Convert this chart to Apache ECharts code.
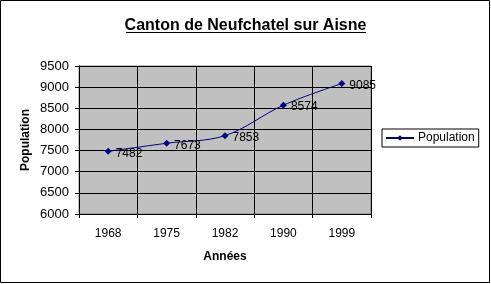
<!DOCTYPE html>
<html><head><meta charset="utf-8">
<script src="https://cdn.jsdelivr.net/npm/echarts@6/dist/echarts.min.js"></script>
<style>html,body{margin:0;padding:0;background:#fff}#c{width:491px;height:284px}</style>
</head><body><div id="c"></div>
<script>
var titleText = "Canton de Neufchatel sur Aisne";
var categories = ["1968", "1975", "1982", "1990", "1999"];
var population = [7482, 7673, 7853, 8574, 9085];
var seriesName = "Population";
var xTitle = "Années";
var yTitle = "Population";
var yMin = 6000, yMax = 9500, yStep = 500;

var FONT = "Liberation Sans";
var chart = echarts.init(document.getElementById('c'), null, {renderer: 'canvas'});
chart.setOption({
  animation: false,
  backgroundColor: '#fff',
  textStyle: {fontFamily: FONT},
  title: {
    text: titleText, left: 'center', top: 13,
    textStyle: {fontFamily: FONT, fontSize: 16, fontWeight: 'bold', color: '#000'}
  },
  graphic: [
    {type: 'rect', shape: {x: 0.5, y: 0.5, width: 489, height: 282}, style: {fill: 'none', stroke: '#000', lineWidth: 1}, z: 100},
    {type: 'line', shape: {x1: 126, y1: 32.5, x2: 366, y2: 32.5}, style: {stroke: '#000', lineWidth: 1.2}}
  ],
  grid: {
    left: 79, top: 66, right: 120, bottom: 70,
    show: true, backgroundColor: '#c0c0c0', borderColor: '#808080', borderWidth: 1
  },
  legend: {
    data: [seriesName], left: 382, top: 129,
    orient: 'vertical',
    borderColor: '#000', borderWidth: 1, padding: [3, 4, 3, 3],
    itemWidth: 28, itemHeight: 7, itemGap: 4,
    textStyle: {fontFamily: FONT, fontSize: 12, color: '#000', padding: [0, 0, 0, -1]}
  },
  xAxis: {
    type: 'category', data: categories, boundaryGap: true,
    name: xTitle, nameLocation: 'middle', nameGap: 37, nameMoveOverlap: false,
    nameTextStyle: {fontFamily: FONT, fontSize: 12, fontWeight: 'bold', color: '#000'},
    axisLine: {lineStyle: {color: '#000', width: 1}},
    axisTick: {show: true, length: 4, lineStyle: {color: '#000'}},
    axisLabel: {color: '#000', fontSize: 12, margin: 14, fontFamily: FONT},
    splitLine: {show: true, lineStyle: {color: '#000', width: 1}}
  },
  yAxis: {
    type: 'value', min: yMin, max: yMax, interval: yStep,
    name: yTitle, nameLocation: 'middle', nameGap: 47, nameRotate: 90, nameMoveOverlap: false,
    nameTextStyle: {fontFamily: FONT, fontSize: 12, fontWeight: 'bold', color: '#000'},
    axisLine: {show: true, lineStyle: {color: '#000', width: 1}},
    axisTick: {show: true, length: 4, lineStyle: {color: '#000'}},
    axisLabel: {color: '#000', fontSize: 13, margin: 10, fontFamily: FONT, formatter: function (v) { return String(v); }},
    splitLine: {show: true, lineStyle: {color: '#000', width: 1}}
  },
  series: [{
    name: seriesName, type: 'line', data: population,
    smooth: 0.35,
    symbol: 'diamond', symbolSize: 7,
    lineStyle: {color: '#000080', width: 1},
    itemStyle: {color: '#000080'},
    label: {show: true, position: 'right', distance: 4, offset: [0, 2], color: '#000', fontSize: 12, fontFamily: FONT}
  }]
});
</script></body></html>
